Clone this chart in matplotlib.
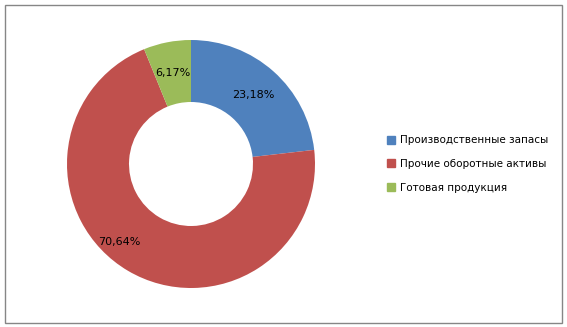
import matplotlib.pyplot as plt
from matplotlib.lines import Line2D
from matplotlib.patches import Rectangle

categories = ["Производственные запасы", "Прочие оборотные активы", "Готовая продукция"]
values = [23.18, 70.64, 6.17]
colors = ["#4F81BD", "#C0504D", "#9BBB59"]

W, H = 567, 327
fig = plt.figure(figsize=(W / 100, H / 100), dpi=100)

# outer frame
fig.patches.append(Rectangle((5 / W, 4 / H), 557 / W, 318 / H, transform=fig.transFigure,
                             fill=False, edgecolor="#868686", linewidth=1.0))

r = 124
ax = fig.add_axes([(191 - r) / W, (H - 164 - r) / H, 2 * r / W, 2 * r / H])
wedges, texts, autotexts = ax.pie(
    values, colors=colors, startangle=90, counterclock=False, radius=1,
    wedgeprops=dict(width=0.5, linewidth=0),
    autopct="%1.0f", pctdistance=0.75,
    textprops=dict(fontsize=8, color="black"),
)
# use the data values as labels (autopct would renormalise them)
for t, v in zip(autotexts, values):
    t.set_text(f"{v:.2f}%".replace(".", ","))
# Excel puts the big slice's label lower-left
autotexts[1].set_position((-0.58, -0.63))
ax.set_xlim(-1, 1)
ax.set_ylim(-1, 1)
ax.set_aspect("equal")
ax.axis("off")

handles = [Line2D([0], [0], marker="s", linestyle="None", markersize=6,
                  markerfacecolor=c, markeredgecolor=c) for c in colors]
fig.legend(handles, categories, loc="center left", bbox_to_anchor=(382 / W, (H - 164) / H),
           frameon=False, fontsize=7.5, handlelength=0.8, handletextpad=0.45,
           labelspacing=1.3, borderpad=0)

fig.savefig("out.png", dpi=100)
